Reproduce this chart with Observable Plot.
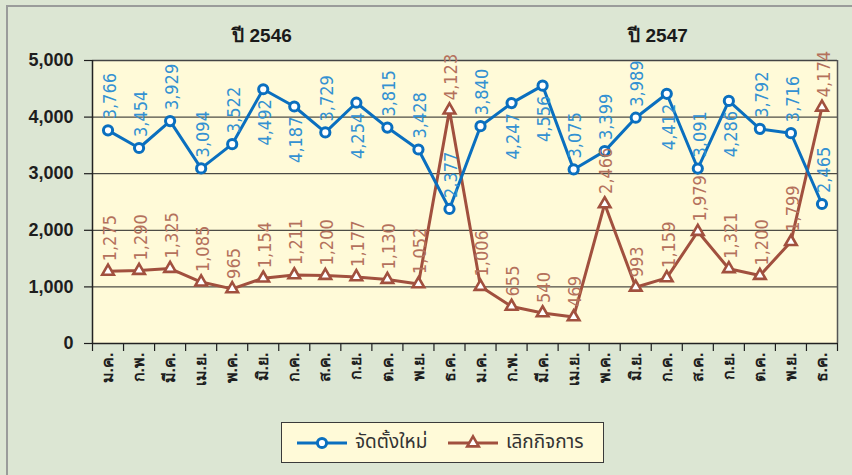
<!DOCTYPE html>
<html>
<head>
<meta charset="utf-8">
<script src="https://cdn.jsdelivr.net/npm/d3@7"></script>
<script src="https://cdn.jsdelivr.net/npm/@observablehq/plot@0.6"></script>
<style>
  html, body { margin: 0; padding: 0; }
  body { width: 852px; height: 475px; overflow: hidden; background: #dce6d3; }
  #wrap { position: relative; width: 852px; height: 475px; background: #dce6d3; font-family: "Liberation Sans", "Noto Sans Thai", sans-serif; }
  #frame { position: absolute; left: 6px; top: 5px; width: 900px; height: 500px; border-top: 2px solid #9a9c9a; border-left: 2px solid #9a9c9a; }
  #chart { position: absolute; left: 0; top: 0; }
  .year { position: absolute; top: 20px; font-weight: bold; font-size: 19px; color: #1a1a1a; transform: translateX(-50%); white-space: nowrap; font-family: "Liberation Sans Narrow", "Liberation Sans", sans-serif; }
  #legend { position: absolute; left: 281px; top: 422px; width: 321px; height: 39px; background: #fffad8; border: 1px solid #3a3a3a; }
  .lg-item { position: absolute; top: 0; height: 39px; display: flex; align-items: center; }
  .lg-text { font-size: 19px; color: #333; margin-left: 8px; white-space: nowrap; }
</style>
</head>
<body>
<div id="wrap">
  <div id="frame"></div>
  <div id="chart"></div>
  <div id="years"></div>
  <div id="legend"></div>
</div>
<script>
// ---- data ----
const months = ["ม.ค.", "ก.พ.", "มี.ค.", "เม.ย.", "พ.ค.", "มิ.ย.", "ก.ค.", "ส.ค.", "ก.ย.", "ต.ค.", "พ.ย.", "ธ.ค."];
const monthLabels = months.concat(months);
const years = ["ปี 2546", "ปี 2547"];
const seriesNames = ["จัดตั้งใหม่", "เลิกกิจการ"];
const newBusiness = [3766, 3454, 3929, 3094, 3522, 4492, 4187, 3729, 4254, 3815, 3428, 2377,
                     3840, 4247, 4556, 3075, 3399, 3989, 4412, 3091, 4286, 3792, 3716, 2465];
const closedBusiness = [1275, 1290, 1325, 1085, 965, 1154, 1211, 1200, 1177, 1130, 1052, 4123,
                        1006, 655, 540, 469, 2466, 993, 1159, 1979, 1321, 1200, 1799, 4174];
const yTicks = [0, 1000, 2000, 3000, 4000, 5000];

// ---- styles ----
const blue = "#0a6fbf";
const brown = "#a1503e";
const blueLabel = "#3391d2";
const brownLabel = "#b4715c";
const labelFont = "'Liberation Sans Narrow', 'DejaVu Sans Condensed', sans-serif";

const rows = monthLabels.map((m, i) => ({i, m, a: newBusiness[i], b: closedBusiness[i]}));
const fmt = d3.format(",");

const chart = Plot.plot({
  width: 852,
  height: 400,
  marginLeft: 92,
  marginRight: 15,
  marginTop: 60,
  marginBottom: 57,
  x: {type: "linear", domain: [-0.5, 23.5], axis: null},
  y: {domain: [0, 5000], axis: null},
  style: {background: "transparent", color: "#1e1e1e", overflow: "visible", fontFamily: "'Liberation Sans', sans-serif"},
  marks: [
    Plot.frame({fill: "#fffad8", stroke: null}),
    Plot.ruleY(yTicks.slice(1, -1), {stroke: "#222", strokeWidth: 1}),
    Plot.ruleY([5000], {stroke: "#444", strokeWidth: 1.5}),
    Plot.ruleX([23.5], {stroke: "#555", strokeWidth: 1.5}),
    Plot.axisY({ticks: yTicks, tickSize: 8, tickPadding: 11, tickFormat: fmt, label: null,
      fontSize: 18, fontWeight: "bold", strokeWidth: 1.2}),
    Plot.ruleX([-0.5], {stroke: "#222", strokeWidth: 1.5}),
    Plot.axisX({ticks: d3.range(25).map(k => k - 0.5), tickSize: 8, tickFormat: () => "", label: null, strokeWidth: 1.2}),
    Plot.axisX({ticks: d3.range(24), tickSize: 0, tickPadding: 9, tickFormat: i => monthLabels[i], label: null,
      tickRotate: -90, fontSize: 16, fontWeight: "bold"}),
    Plot.ruleY([0], {stroke: "#222", strokeWidth: 1.5}),
    Plot.line(rows, {x: "i", y: "b", stroke: brown, strokeWidth: 3}),
    Plot.line(rows, {x: "i", y: "a", stroke: blue, strokeWidth: 3}),
    Plot.dot(rows, {x: "i", y: "b", symbol: "triangle", r: 4.3, fill: "white", stroke: brown, strokeWidth: 2.6}),
    Plot.dot(rows, {x: "i", y: "a", r: 4.6, fill: "white", stroke: blue, strokeWidth: 3}),
    // labels of new registrations: above, or below when near the top
    Plot.text(rows.filter(d => d.a <= 4100), {x: "i", y: "a", text: d => fmt(d.a), rotate: -90,
      textAnchor: "start", lineAnchor: "middle", dy: -11, dx: 2, fill: blueLabel, fontSize: 18, fontFamily: labelFont}),
    Plot.text(rows.filter(d => d.a > 4100), {x: "i", y: "a", text: d => fmt(d.a), rotate: -90,
      textAnchor: "end", lineAnchor: "middle", dy: 10, dx: 2, fill: blueLabel, fontSize: 18, fontFamily: labelFont}),
    // labels of closures
    Plot.text(rows, {x: "i", y: "b", text: d => fmt(d.b), rotate: -90,
      textAnchor: "start", lineAnchor: "middle", dy: -10, dx: 2, fill: brownLabel, fontSize: 18, fontFamily: labelFont})
  ]
});
document.getElementById("chart").appendChild(chart);

// year headers
const yearPos = [262, 658];
const yh = document.getElementById("years");
years.forEach((t, k) => {
  const d = document.createElement("div");
  d.className = "year";
  d.style.left = yearPos[k] + "px";
  d.textContent = t;
  yh.appendChild(d);
});

// legend
const lg = document.getElementById("legend");
const items = [
  {name: seriesNames[0], color: blue, shape: "circle", left: 15},
  {name: seriesNames[1], color: brown, shape: "triangle", left: 166}
];
items.forEach(it => {
  const el = document.createElement("div");
  el.className = "lg-item";
  el.style.left = it.left + "px";
  const marker = it.shape === "circle"
    ? `<circle cx="25" cy="10" r="4.6" fill="white" stroke="${it.color}" stroke-width="3"/>`
    : `<path d="${d3.symbol(d3.symbolTriangle, Math.PI * 4.3 * 4.3)()}" transform="translate(25,10)" fill="white" stroke="${it.color}" stroke-width="2.6"/>`;
  el.innerHTML = `<svg width="50" height="20"><line x1="0" x2="50" y1="10" y2="10" stroke="${it.color}" stroke-width="3"/>${marker}</svg><span class="lg-text">${it.name}</span>`;
  lg.appendChild(el);
});
</script>
</body>
</html>
